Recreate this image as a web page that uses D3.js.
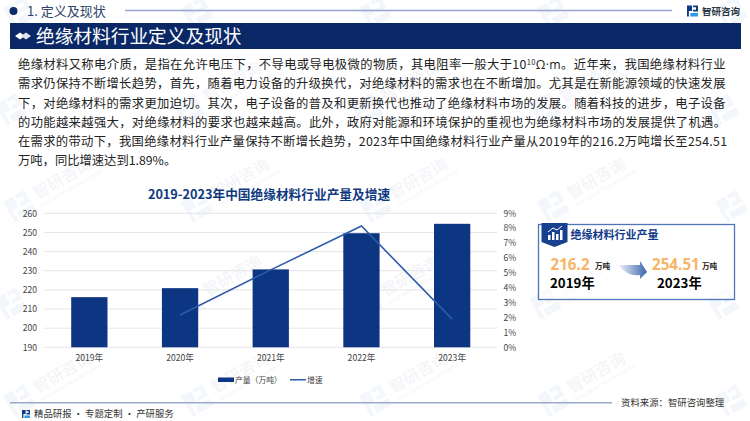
<!DOCTYPE html>
<html><head><meta charset="utf-8">
<script src="https://cdn.jsdelivr.net/npm/d3@7"></script>
<style>html,body{margin:0;padding:0;background:#fff}svg{display:block}text{font-family:"Noto Sans CJK SC","Noto Sans",sans-serif}</style>
</head><body><svg id="c" width="750" height="421" viewBox="0 0 750 421"></svg>
<script>
const years = ["2019年","2020年","2021年","2022年","2023年"];
const output = [216.2,220.9,230.7,249.6,254.51];
const growth = [null,2.17,5.2,8.15,1.89];
const outputTicks = [190,200,210,220,230,240,250,260];
const growthTicks = [0,1,2,3,4,5,6,7,8,9];
const paragraph = [
 ["绝缘材料又称电介质，是指在允许电压下，不导电或导电极微的物质，其电阻率一般大于10","10","Ω·m。","近年来，我国绝缘材料行业"],
 ["需求仍保持不断增长趋势，首先，随着电力设备的升级换代，对绝缘材料的需求也在不断增加。尤其是在新能源领域的快速发展"],
 ["下，对绝缘材料的需求更加迫切。其次，电子设备的普及和更新换代也推动了绝缘材料市场的发展。随着科技的进步，电子设备"],
 ["的功能越来越强大，对绝缘材料的要求也越来越高。此外，政府对能源和环境保护的重视也为绝缘材料市场的发展提供了机遇。"],
 ["在需求的带动下，我国绝缘材料行业产量保持不断增长趋势，2023年中国绝缘材料行业产量从2019年的216.2万吨增长至254.51"],
 ["万吨，同比增速达到1.89%。"]
];
const svg = d3.select("#c");
const defs = svg.append("defs");
const grad = defs.append("linearGradient").attr("id","arr");
grad.append("stop").attr("offset","0").attr("stop-color","#2f5ca8").attr("stop-opacity",0.05);
grad.append("stop").attr("offset","1").attr("stop-color","#2f5ca8").attr("stop-opacity",0.95);

function logo(g,s,c1,c2){
  g.append("path").attr("fill",c1).attr("d",`M0 0H${s*.45}V${s*.5}H${s*.17}V${s}H0Z`);
  g.append("path").attr("fill",c1).attr("d",`M${s*.55} 0H${s}V${s*.55}H${s*.55}V${s*.38}H${s*.82}V${s*.17}H${s*.55}Z`);
  g.append("path").attr("fill",c2).attr("d",`M${s*.3} ${s*.68}H${s}V${s}H${s*.3}Z`);
}
// watermark
const wm = svg.append("g");
for(let r=0;r<5;r++){
  for(let k=0;k<5;k++){
    const x = -5+k*178+(r%2?0:8), y = 8+r*97;
    const g = wm.append("g").attr("transform",`translate(${x},${y}) rotate(-30)`);
    logo(g,24,"#f3f6fb","#f3f6fb");
    if(y>62 && x+100<750 && x>=0){
      g.append("text").attr("x",31).attr("y",15).attr("font-size",16).attr("fill","#f2f3f7").text("智研咨询");
      g.append("text").attr("x",31).attr("y",24).attr("font-size",4.5).attr("fill","#f3f4f8").text("INTELLIGENCE RESEARCH GROUP");
    }
  }
}
// header
svg.append("circle").attr("cx",13.5).attr("cy",11).attr("r",4).attr("fill","#0d2b6b");
svg.append("text").attr("x",27).attr("y",15.5).attr("font-size",13).attr("fill","#2d4468").text("1. 定义及现状");
svg.append("rect").attr("x",125).attr("y",9.7).attr("width",547).attr("height",1.6).attr("fill","#9ba9cf");
logo(svg.append("g").attr("transform","translate(687,5.5)"),11,"#0d3a80","#2f9be0");
svg.append("text").attr("x",702).attr("y",14.5).attr("font-size",9.5).attr("font-weight",700).attr("fill","#2a3342").text("智研咨询");
svg.append("rect").attr("x",10).attr("y",23).attr("width",731).attr("height",26).attr("fill","#0a2866");
[[20,"#fff"],[26,"#dfe3ea"]].forEach(([x,f])=>svg.append("path").attr("d",`M${x-5} 36L${x} 32.5L${x+5} 36L${x} 39.5Z`).attr("fill",f));
svg.append("text").attr("x",36).attr("y",43).attr("font-size",18.7).attr("fill","#fff").text("绝缘材料行业定义及现状");
// paragraph
const ends = [725.5,725.5,725.5,726,727];
paragraph.forEach((parts,i)=>{
  const t = svg.append("text").attr("x",18).attr("y",69.2+i*19.15).attr("font-size",12.3).attr("fill","#222");
  if(i<5) t.attr("textLength",ends[i]-18).attr("lengthAdjust","spacing");
  if(parts.length>1){
    t.append("tspan").text(parts[0]);
    t.append("tspan").attr("font-size",7.5).attr("dy",-4).text(parts[1]);
    t.append("tspan").attr("dy",4).style("font-family","'Open Sans'").text(parts[2].slice(0,3));
    t.append("tspan").text(parts[2].slice(3)+parts[3]);
  } else t.text(parts[0]);
});
// chart
svg.append("text").attr("x",269).attr("y",198.5).attr("text-anchor","middle").attr("font-size",12.7).attr("font-weight",700).attr("fill","#0f3a80").text("2019-2023年中国绝缘材料行业产量及增速");
const x = d3.scaleBand().domain(years).range([44,497.5]).paddingInner(0.6).paddingOuter(0.3);
const y = d3.scaleLinear().domain([190,260]).range([347.3,213.3]);
const y2 = d3.scaleLinear().domain([0,9]).range([347.3,213.3]);
const axisStyle = g=>{g.select(".domain").remove();g.selectAll("line").remove();g.selectAll("text").attr("font-size",8.6).attr("fill","#444");};
svg.append("g").selectAll("line").data(outputTicks).join("line")
  .attr("x1",44).attr("x2",497).attr("y1",d=>y(d)).attr("y2",d=>y(d)).attr("stroke","#e6e6e8").attr("stroke-width",1);
svg.append("g").attr("transform","translate(37,0)").call(d3.axisLeft(y).tickValues(outputTicks).tickSize(0).tickPadding(0)).call(axisStyle);
svg.append("g").attr("transform","translate(503.5,0)").call(d3.axisRight(y2).tickValues(growthTicks).tickFormat(d=>d+"%").tickSize(0).tickPadding(0)).call(axisStyle);
svg.append("g").attr("transform","translate(0,355)").call(d3.axisBottom(x).tickSize(0).tickPadding(0)).call(axisStyle);
svg.append("g").selectAll("rect").data(years).join("rect")
  .attr("x",d=>x(d)).attr("width",x.bandwidth())
  .attr("y",(d,i)=>y(output[i])).attr("height",(d,i)=>y(190)-y(output[i])).attr("fill","#0c3682");
const line = d3.line().defined(d=>d.v!==null).x(d=>x(d.k)+x.bandwidth()/2).y(d=>y2(d.v));
svg.append("path").datum(years.map((k,i)=>({k,v:growth[i]}))).attr("d",line).attr("fill","none").attr("stroke","#2f5ca8").attr("stroke-width",1.6);
// legend
svg.append("rect").attr("x",218).attr("y",377.5).attr("width",16).attr("height",4.5).attr("fill","#0c3682");
svg.append("text").attr("x",235).attr("y",382.5).attr("font-size",7.8).attr("fill","#444").text("产量（万吨）");
svg.append("rect").attr("x",290).attr("y",379).attr("width",16).attr("height",1.5).attr("fill","#2f5ca8");
svg.append("text").attr("x",307).attr("y",382.5).attr("font-size",7.8).attr("fill","#444").text("增速");
// panel
svg.append("rect").attr("x",538.5).attr("y",224.5).attr("width",196).attr("height",75).attr("fill","#fff").attr("fill-opacity",.6).attr("stroke","#4f74b8").attr("stroke-width",1.3);
svg.append("path").attr("d","M541.5 223H567.5V242L554.5 247L541.5 242Z").attr("fill","#17418f");
const ic = svg.append("g").attr("fill","#fff");
[[548,235,2.5,5],[552,232,2.5,8],[556,234,2.5,6],[560,230,2.5,10]].forEach(([a,b,w,h])=>ic.append("rect").attr("x",a).attr("y",b).attr("width",w).attr("height",h));
svg.append("path").attr("d","M548 232L553 228L557 230L562 226").attr("fill","none").attr("stroke","#fff").attr("stroke-width",1);
svg.append("text").attr("x",570.5).attr("y",239).attr("font-size",11).attr("font-weight",700).attr("fill","#123a8a").text("绝缘材料行业产量");
const orange="#f8b566";
svg.append("text").attr("x",550.5).attr("y",270).attr("font-size",15.2).attr("font-weight",700).attr("fill",orange).style("font-family","'Open Sans'").text("216.2");
svg.append("text").attr("x",595).attr("y",269).attr("font-size",7.6).attr("font-weight",700).attr("fill","#222").text("万吨");
svg.append("text").attr("x",550).attr("y",288).attr("font-size",13.3).attr("font-weight",700).attr("fill","#000").text("2019年");
svg.append("path").attr("d","M618 265H640V261L647 272L640 279V275Q628 277 618 265Z").attr("fill","url(#arr)");
svg.append("text").attr("x",652).attr("y",270).attr("font-size",15.2).attr("font-weight",700).attr("fill",orange).style("font-family","'Open Sans'").text("254.51");
svg.append("text").attr("x",702).attr("y",269).attr("font-size",7.6).attr("font-weight",700).attr("fill","#222").text("万吨");
svg.append("text").attr("x",657).attr("y",288).attr("font-size",13.3).attr("font-weight",700).attr("fill","#000").text("2023年");
// footer
svg.append("rect").attr("x",10).attr("y",402).attr("width",602).attr("height",1.5).attr("fill","#9ba9cf");
svg.append("text").attr("x",621).attr("y",405.5).attr("font-size",9.4).attr("fill","#333").text("资料来源：智研咨询整理");
logo(svg.append("g").attr("transform","translate(22,410)"),8,"#0d3a80","#2f9be0");
svg.append("text").attr("x",34).attr("y",417).attr("font-size",9.4).attr("fill","#333").text("精品研报 · 专题定制 · 产研服务");
</script></body></html>
